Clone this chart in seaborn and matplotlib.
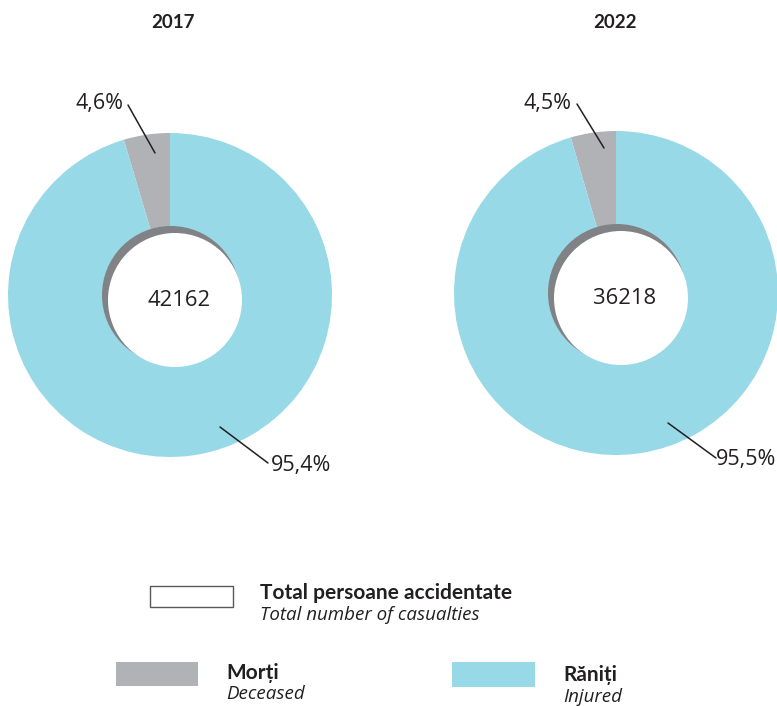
import matplotlib
matplotlib.use("Agg")
import matplotlib.pyplot as plt
import seaborn as sns
from matplotlib.patches import Circle, Rectangle

sns.set_theme(style="white")
plt.rcParams['font.family'] = ['Open Sans', 'DejaVu Sans']
BOLD = ['Lato', 'DejaVu Sans']

# Data
years = ["2017", "2022"]
totals = [42162, 36218]
deceased_pct = [4.6, 4.5]
injured_pct = [95.4, 95.5]
legend_labels = [("Total persoane accidentate", "Total number of casualties"),
                 ("Morți", "Deceased"),
                 ("Răniți", "Injured")]

BLUE = "#98D9E8"
GRAY = "#B1B2B6"
SHADOW = "#808285"
INK = "#231F20"

W, H = 777, 706
fig = plt.figure(figsize=(W / 100, H / 100), dpi=100)
ax = fig.add_axes([0, 0, 1, 1])
ax.set_xlim(0, W)
ax.set_ylim(H, 0)
ax.set_aspect("equal")
ax.axis("off")

centers = [(170, 295), (616, 293)]
R = 162
label_specs = [
    ((100, 103), (128, 105), (155, 153), (301, 465), (220, 427), (268, 463)),
    ((548, 103), (577, 104), (604, 148), (746, 460), (668, 423), (716, 458)),
]

for i, (cx, cy) in enumerate(centers):
    ax.pie([deceased_pct[i], injured_pct[i]], colors=[GRAY, BLUE], startangle=-90,
           counterclock=False, center=(cx, cy), radius=R,
           wedgeprops=dict(linewidth=0))
    ax.add_patch(Circle((cx + 1, cy), 69, color=SHADOW, lw=0, zorder=5))
    ax.add_patch(Circle((cx + 5, cy + 5), 67, color="white", lw=0, zorder=6))
    ax.text(cx + 9, cy + 6, f"{totals[i]}", ha="center", va="center", fontsize=15.8,
            color=INK, zorder=7)
    ax.text(cx + 3 - 4 * i, 22, years[i], ha="center", va="center", fontsize=13.5,
            fontweight="bold", family=BOLD, color=INK)
    sp, l1, l2, bp, b1, b2 = label_specs[i]
    ax.text(sp[0], sp[1], f"{deceased_pct[i]:.1f}%".replace(".", ","), ha="center",
            va="center", fontsize=15.5, color=INK)
    ax.plot([l1[0], l2[0]], [l1[1], l2[1]], color=INK, lw=1.1, zorder=8)
    ax.text(bp[0], bp[1], f"{injured_pct[i]:.1f}%".replace(".", ","), ha="center",
            va="center", fontsize=15.5, color=INK)
    ax.plot([b1[0], b2[0]], [b1[1], b2[1]], color=INK, lw=1.1, zorder=8)

# Legend
ax.add_patch(Rectangle((150, 586), 83, 21, facecolor="white", edgecolor="#58595B", lw=1))
ax.text(260, 593, legend_labels[0][0], ha="left", va="center", fontsize=15,
        fontweight="bold", family=BOLD, color=INK)
ax.text(260, 615, legend_labels[0][1], ha="left", va="center", fontsize=13.5,
        style="italic", color=INK)

ax.add_patch(Rectangle((116, 662), 82, 24, facecolor=GRAY, edgecolor="none"))
ax.text(226, 673, legend_labels[1][0], ha="left", va="center", fontsize=15,
        fontweight="bold", family=BOLD, color=INK)
ax.text(226, 694, legend_labels[1][1], ha="left", va="center", fontsize=13.5,
        style="italic", color=INK)

ax.add_patch(Rectangle((452, 662), 83, 25, facecolor=BLUE, edgecolor="none"))
ax.text(563, 675, legend_labels[2][0], ha="left", va="center", fontsize=15,
        fontweight="bold", family=BOLD, color=INK)
ax.text(563, 697, legend_labels[2][1], ha="left", va="center", fontsize=13.5,
        style="italic", color=INK)

ax.set_xlim(0, W)
ax.set_ylim(H, 0)
fig.savefig("out.png", dpi=100)
